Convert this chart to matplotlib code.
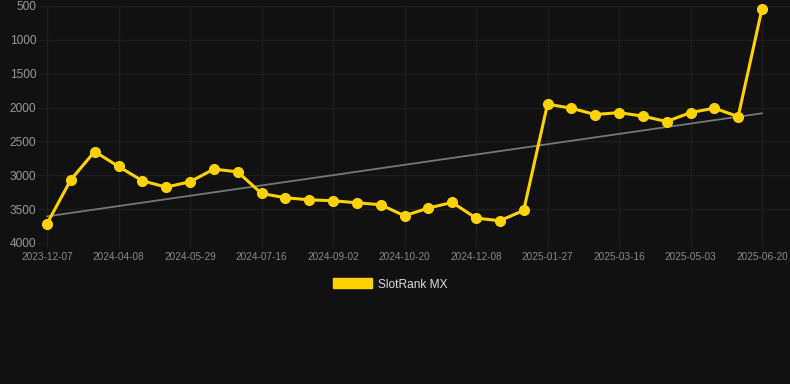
import numpy as np
import matplotlib
matplotlib.use("Agg")
import matplotlib.pyplot as plt
from matplotlib.patches import Patch

plt.rcParams['font.family'] = ['Liberation Sans', 'DejaVu Sans']

tick_labels = ["2023-12-07", "2024-04-08", "2024-05-29", "2024-07-16", "2024-09-02",
               "2024-10-20", "2024-12-08", "2025-01-27", "2025-03-16", "2025-05-03",
               "2025-06-20"]
ranks = [3715, 3066, 2649, 2870, 3081, 3175, 3096, 2909, 2949, 3268,
         3332, 3362, 3376, 3406, 3435, 3598, 3484, 3401, 3632, 3671,
         3519, 1950, 2009, 2103, 2074, 2127, 2206, 2074, 2009, 2133, 540]
series_name = "SlotRank MX"
y_ticks = [500, 1000, 1500, 2000, 2500, 3000, 3500, 4000]

bg = "#111111"
gold = "#FFD200"
grid_c = "#1e1e1e"
fig = plt.figure(figsize=(7.9, 3.84), dpi=100, facecolor=bg)
ax = fig.add_axes([42/790, 1-243/384, (790-42)/790, (243-6)/384], facecolor=bg)

x = np.arange(len(ranks))
ax.plot(x, ranks, color=gold, lw=2.2, marker='o', ms=7, zorder=3, clip_on=False)

coef = np.polyfit(x, ranks, 1)
ax.plot(x, np.polyval(coef, x), color="#777777", lw=1.3, zorder=2)

ax.set_ylim(4000, 500)
px = 715/30
ax.set_xlim(-5/px, 30 + 28/px)
ax.set_yticks(y_ticks)
ax.set_yticklabels([str(v) for v in y_ticks])
tick_pos = list(range(0, len(ranks), 3))
ax.set_xticks(tick_pos)
ax.set_xticklabels(tick_labels)

ax.grid(True, color=grid_c, lw=1)
ax.set_axisbelow(True)
for s in ax.spines.values():
    s.set_visible(False)
ax.tick_params(axis='y', colors=grid_c, labelcolor="#999999", labelsize=8.6, length=3.6, pad=0.5)
ax.tick_params(axis='x', colors=grid_c, labelcolor="#8a8a8a", labelsize=7.2, length=3.6, pad=3)

fig.legend(handles=[Patch(facecolor=gold, edgecolor=gold)], labels=[series_name],
           loc='center', bbox_to_anchor=(390/790, 1-284.5/384), frameon=False,
           fontsize=8.6, labelcolor="#dddddd", handlelength=3.3, handleheight=0.9,
           handletextpad=0.5)

fig.savefig("out.png", dpi=100, facecolor=bg)
